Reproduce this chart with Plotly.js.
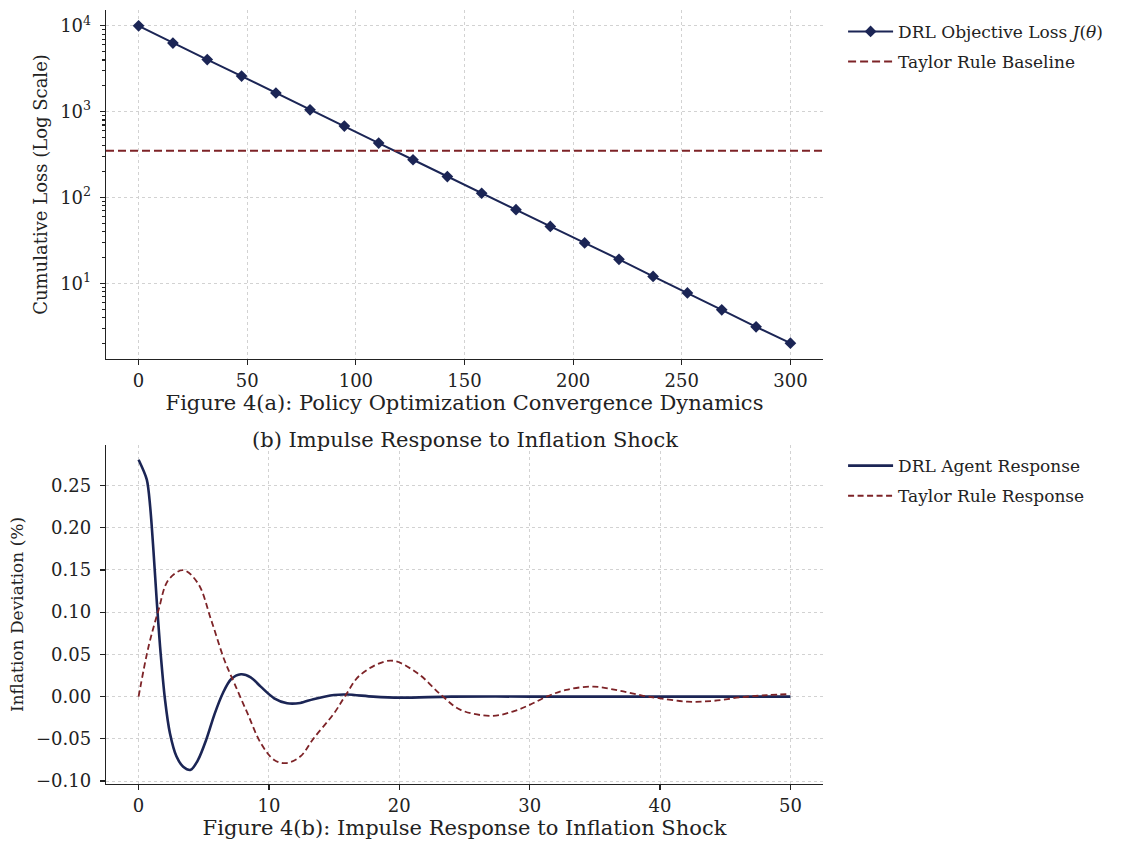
<!DOCTYPE html>
<html>
<head>
<meta charset="utf-8">
<script src="https://cdn.plot.ly/plotly-3.0.1.min.js"></script>
<style>html,body{margin:0;padding:0;background:#fff;}#chart{width:1127px;height:841px;}</style>
</head>
<body>
<div id="chart"></div>
<script>
// ---- Panel (a): policy optimization convergence ----
const iterations = [0, 15.8, 31.6, 47.4, 63.2, 78.9, 94.7, 110.5, 126.3, 142.1, 157.9, 173.7, 189.5, 205.3, 221.1, 236.8, 252.6, 268.4, 284.2, 300];
const drlLoss = [10000, 6300, 4050, 2600, 1650, 1050, 680, 430, 275, 175, 112, 72, 46, 29.5, 19, 12, 7.7, 4.9, 3.1, 2.0];
const taylorBaseline = 350;
const xTicksA = [0, 50, 100, 150, 200, 250, 300];
const yTickValsA = [10, 100, 1000, 10000];
const yTickTextA = ['10<sup>1</sup>', '10<sup>2</sup>', '10<sup>3</sup>', '10<sup>4</sup>'];

// ---- Panel (b): impulse response ----
const drlT = [0, 0.63, 0.89, 1.14, 1.39, 1.65, 2.03, 2.4, 2.91, 3.42, 4.0, 4.56, 5.19, 5.82, 6.46, 7.09, 7.85, 8.6, 9.37, 10.4, 11.4, 12.4, 13.4, 15, 16, 18, 20.1, 24, 30, 40, 50];
const drlResp = [0.2805, 0.257, 0.2246, 0.173, 0.114, 0.059, -0.004, -0.043, -0.071, -0.083, -0.0867, -0.075, -0.051, -0.021, 0.004, 0.0205, 0.0264, 0.0229, 0.0118, -0.002, -0.0079, -0.0075, -0.003, 0.002, 0.0025, 0.0, -0.0012, 0, 0, 0, 0];
const taylorT = [0, 0.76, 1.52, 2.28, 3.42, 4.56, 5.57, 6.58, 7.34, 8.35, 9.37, 10.4, 11.27, 12.4, 13.4, 15, 15.9, 17.0, 19.35, 21.4, 23.2, 24.7, 27.1, 28.7, 30, 31.3, 32.8, 34.9, 36.9, 38.7, 40, 42.1, 44.1, 46.2, 48.2, 50];
const taylorResp = [0, 0.059, 0.102, 0.138, 0.1497, 0.134, 0.0906, 0.0433, 0.016, -0.0197, -0.055, -0.075, -0.0788, -0.071, -0.05, -0.0196, 0.002, 0.0256, 0.0426, 0.0276, 0.002, -0.0157, -0.0228, -0.0177, -0.0098, 0, 0.008, 0.0118, 0.007, 0.001, -0.002, -0.006, -0.005, -0.0008, 0.0017, 0.003];
const xTicksB = [0, 10, 20, 30, 40, 50];
const yTicksB = [-0.10, -0.05, 0.00, 0.05, 0.10, 0.15, 0.20, 0.25];

const NAVY = '#1b2555';
const RED = '#7d2327';
const FONT = 'DejaVu Serif, serif';

const minorA = [];
[1, 10, 100, 1000].forEach(d => { for (let k = 2; k <= 9; k++) minorA.push(d * k); });

const traces = [
  {x: iterations, y: drlLoss, mode: 'lines+markers', name: 'DRL Objective Loss <i>J</i>(<i>θ</i>)',
   line: {color: NAVY, width: 2}, marker: {symbol: 'diamond', size: 9, color: NAVY},
   xaxis: 'x', yaxis: 'y', legend: 'legend', legendgroup: 'a1'},
  {x: [-15, 315], y: [taylorBaseline, taylorBaseline], mode: 'lines', name: 'Taylor Rule Baseline',
   line: {color: RED, width: 2, dash: '8px,4px'}, xaxis: 'x', yaxis: 'y', legend: 'legend', legendgroup: 'a2'},
  {x: drlT, y: drlResp, mode: 'lines', name: 'DRL Agent Response',
   line: {color: NAVY, width: 2.6, shape: 'spline', smoothing: 0.8}, xaxis: 'x2', yaxis: 'y2', legend: 'legend2', legendgroup: 'b1'},
  {x: taylorT, y: taylorResp, mode: 'lines', name: 'Taylor Rule Response',
   line: {color: RED, width: 1.8, dash: '6px,3.5px', shape: 'spline', smoothing: 1}, xaxis: 'x2', yaxis: 'y2', legend: 'legend2', legendgroup: 'b2'}
];

const axisCommon = {
  showline: true, linecolor: '#222', linewidth: 1.3, mirror: false,
  ticks: 'outside', ticklen: 5, tickwidth: 1.1, tickcolor: '#222',
  showgrid: true, gridcolor: '#d2d2d2', griddash: 'dot', gridwidth: 1,
  zeroline: false, tickfont: {family: FONT, size: 18, color: '#222'}
};

const legendCommon = {xanchor: 'left', yanchor: 'top', bgcolor: 'rgba(0,0,0,0)',
  font: {family: FONT, size: 17, color: '#222'}, tracegroupgap: 5, itemwidth: 45};

const layout = {
  width: 1127, height: 841,
  margin: {l: 106, r: 304, t: 10, b: 57},
  paper_bgcolor: '#fff', plot_bgcolor: '#fff',
  font: {family: FONT, color: '#222'},
  showlegend: true,
  xaxis: Object.assign({}, axisCommon, {
    domain: [0, 1], anchor: 'y', range: [-15, 315], tickvals: xTicksA,
    title: {text: 'Figure 4(a): Policy Optimization Convergence Dynamics', font: {family: FONT, size: 21, color: '#222'}, standoff: 5}
  }),
  yaxis: Object.assign({}, axisCommon, {
    domain: [0.549, 1], anchor: 'x', type: 'log', range: [0.116, 4.185],
    tickmode: 'array', tickvals: yTickValsA, ticktext: yTickTextA, ticklabelstandoff: 5,
    minor: {tickmode: 'array', tickvals: minorA, ticks: 'outside', ticklen: 3, tickcolor: '#222', showgrid: false},
    title: {text: 'Cumulative Loss (Log Scale)', font: {family: FONT, size: 18, color: '#222'}, standoff: 8}
  }),
  xaxis2: Object.assign({}, axisCommon, {
    domain: [0, 1], anchor: 'y2', range: [-2.5, 52.5], tickvals: xTicksB,
    title: {text: 'Figure 4(b): Impulse Response to Inflation Shock', font: {family: FONT, size: 21, color: '#222'}, standoff: 5}
  }),
  yaxis2: Object.assign({}, axisCommon, {
    domain: [0, 0.438], anchor: 'x2', range: [-0.1035, 0.298],
    tickvals: yTicksB, tickformat: '.2f', ticklabelstandoff: 5,
    title: {text: 'Inflation Deviation (%)', font: {family: FONT, size: 17, color: '#222'}, standoff: 8}
  }),
  legend: Object.assign({}, legendCommon, {x: 1.028, y: 0.995}),
  legend2: Object.assign({}, legendCommon, {x: 1.028, y: 0.434}),
  annotations: [{
    text: '(b) Impulse Response to Inflation Shock', xref: 'paper', yref: 'paper',
    x: 0.5, y: 0.438, yshift: 5, xanchor: 'center', yanchor: 'middle', showarrow: false,
    font: {family: FONT, size: 21, color: '#222'}
  }]
};

Plotly.newPlot('chart', traces, layout, {displayModeBar: false, staticPlot: true});
</script>
</body>
</html>
